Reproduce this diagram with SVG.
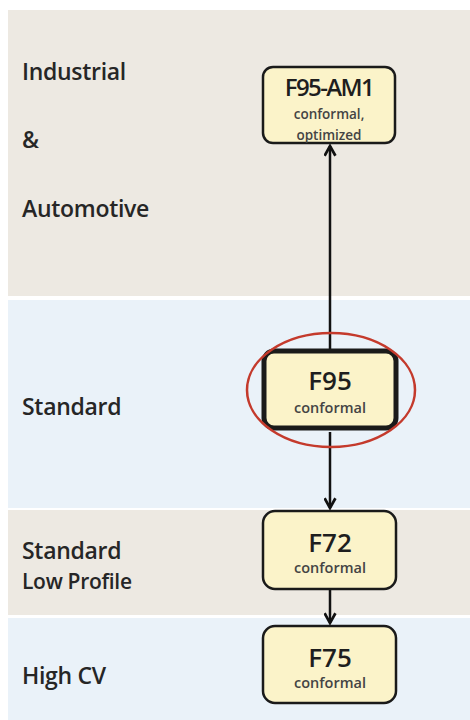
<svg xmlns="http://www.w3.org/2000/svg" width="470" height="720" viewBox="0 0 470 720">
<style>
.lbl{font-family:"Open Sans","Liberation Sans",sans-serif;font-size:23px;font-weight:600;fill:#262626;letter-spacing:-0.3px}
.ttl{font-family:"Open Sans","Liberation Sans",sans-serif;font-size:26px;font-weight:600;fill:#1e1e1e;text-anchor:middle}
.sub{font-family:"Open Sans","Liberation Sans",sans-serif;font-size:14.5px;font-weight:600;fill:#444;text-anchor:middle}
.box{fill:#fbf3c9;stroke:#1a1a1a;stroke-width:2.5}
.con{stroke:#111;stroke-width:2.5;fill:none}
</style>
<defs>
<marker id="ah" viewBox="0 0 12 12" refX="10" refY="6" markerWidth="13" markerHeight="13" markerUnits="userSpaceOnUse" orient="auto">
<path d="M1,1 L10,6 L1,11" fill="none" stroke="#111" stroke-width="2.5"/>
</marker>
<clipPath id="c1"><rect x="263" y="67" width="132" height="76" rx="10"/></clipPath>
</defs>
<rect width="470" height="720" fill="#fff"/>
<g id="bands">
<rect x="8" y="10" width="462" height="286" fill="#ede9e2"/>
<rect x="8" y="300" width="462" height="208" fill="#eaf2f9"/>
<rect x="8" y="510" width="462" height="105" fill="#ede9e2"/>
<rect x="8" y="618" width="462" height="102" fill="#eaf2f9"/>
</g>
<g id="labels">
<text class="lbl" x="22" y="80">Industrial</text>
<text class="lbl" x="22" y="148">&amp;</text>
<text class="lbl" x="22" y="217">Automotive</text>
<text class="lbl" x="22" y="415">Standard</text>
<text class="lbl" x="22" y="559">Standard</text>
<text class="lbl" x="22" y="589" style="font-size:21px">Low Profile</text>
<text class="lbl" x="22" y="684">High CV</text>
</g>
<g id="connectors">
<line class="con" x1="330" y1="349" x2="330" y2="146" marker-end="url(#ah)"/>
<line class="con" x1="330" y1="432" x2="330" y2="508" marker-end="url(#ah)"/>
<line class="con" x1="330" y1="590" x2="330" y2="623" marker-end="url(#ah)"/>
</g>
<g id="node-f95am1">
<rect class="box" x="263" y="67" width="132" height="76" rx="10"/>
<text class="ttl" x="329" y="96" style="font-size:24px;letter-spacing:-1.6px">F95-AM1</text>
<g clip-path="url(#c1)">
<text class="sub" x="329" y="119" style="font-size:13.5px">conformal,</text>
<text class="sub" x="329" y="140" style="font-size:13.5px">optimized</text>
</g>
</g>
<g id="node-f95">
<rect class="box" x="264" y="351" width="132" height="77" rx="10" style="stroke-width:5"/>
<text class="ttl" x="330" y="390">F95</text>
<text class="sub" x="330" y="413">conformal</text>
</g>
<g id="node-f72">
<rect class="box" x="263" y="511" width="133" height="78" rx="12"/>
<text class="ttl" x="330" y="552">F72</text>
<text class="sub" x="330" y="573">conformal</text>
</g>
<g id="node-f75">
<rect class="box" x="263" y="626" width="133" height="77" rx="12"/>
<text class="ttl" x="330" y="667">F75</text>
<text class="sub" x="330" y="688">conformal</text>
</g>
<g id="highlight">
<ellipse cx="331" cy="390" rx="84" ry="57" fill="none" stroke="#c43a2c" stroke-width="2.5"/>
</g>
</svg>
